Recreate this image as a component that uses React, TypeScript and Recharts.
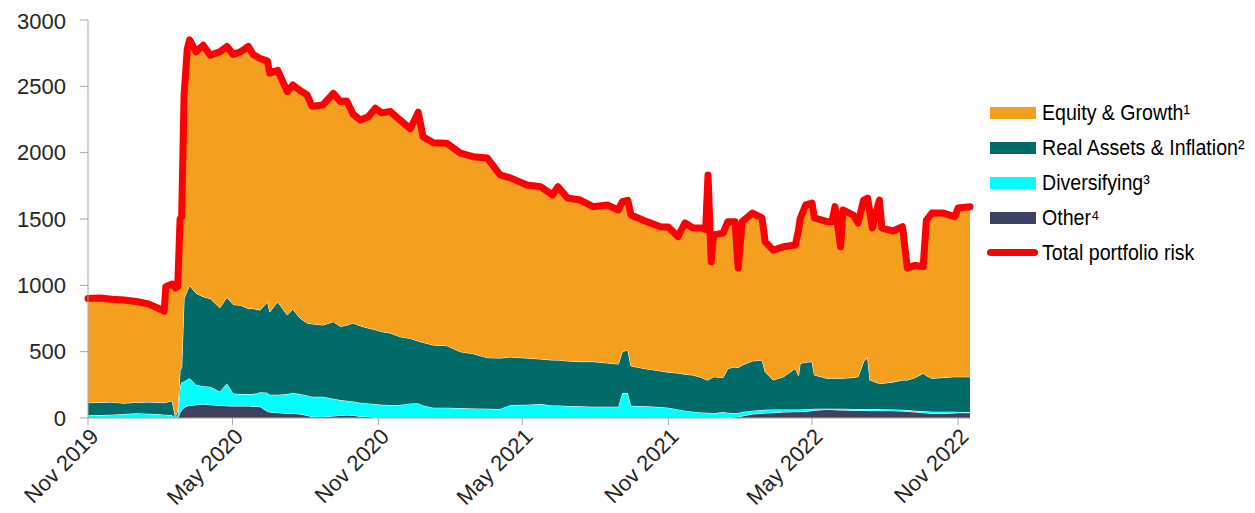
import React from "react"
import {
  ComposedChart,
  Area,
  Line,
  XAxis,
  YAxis
} from "recharts"

// sample dates (roughly bi-weekly, extra points around the spikes)
const dates = [
  "2019-11-01", "2019-11-16", "2019-12-01", "2019-12-16", "2020-01-01", "2020-01-16", "2020-01-31", "2020-02-05",
  "2020-02-07", "2020-02-15", "2020-02-19", "2020-02-22", "2020-02-25", "2020-02-27", "2020-03-01", "2020-03-05",
  "2020-03-08", "2020-03-16", "2020-03-25", "2020-04-03", "2020-04-15", "2020-04-24", "2020-05-02", "2020-05-11",
  "2020-05-21", "2020-05-27", "2020-06-05", "2020-06-14", "2020-06-17", "2020-06-27", "2020-07-09", "2020-07-16",
  "2020-07-25", "2020-08-03", "2020-08-09", "2020-08-23", "2020-09-05", "2020-09-14", "2020-09-22", "2020-09-30",
  "2020-10-09", "2020-10-19", "2020-10-28", "2020-11-05", "2020-11-16", "2020-11-28", "2020-12-11", "2020-12-21",
  "2020-12-27", "2021-01-09", "2021-01-26", "2021-02-12", "2021-02-28", "2021-03-18", "2021-04-03", "2021-04-16",
  "2021-05-07", "2021-05-24", "2021-06-08", "2021-06-15", "2021-06-27", "2021-07-13", "2021-07-29", "2021-08-16",
  "2021-08-30", "2021-09-04", "2021-09-11", "2021-09-15", "2021-10-05", "2021-10-22", "2021-11-01", "2021-11-13",
  "2021-11-22", "2021-12-02", "2021-12-13", "2021-12-18", "2021-12-21", "2021-12-25", "2021-12-28", "2022-01-09",
  "2022-01-15", "2022-01-24", "2022-01-28", "2022-02-02", "2022-02-15", "2022-02-27", "2022-03-03", "2022-03-13",
  "2022-03-26", "2022-04-10", "2022-04-14", "2022-04-16", "2022-04-23", "2022-05-01", "2022-05-04", "2022-05-20",
  "2022-05-26", "2022-05-30", "2022-06-06", "2022-06-09", "2022-06-22", "2022-06-28", "2022-07-05", "2022-07-10",
  "2022-07-13", "2022-07-16", "2022-07-22", "2022-07-25", "2022-07-28", "2022-08-11", "2022-08-23", "2022-08-29",
  "2022-09-08", "2022-09-18", "2022-09-22", "2022-09-29", "2022-10-13", "2022-10-28", "2022-11-01", "2022-11-16"
]

const otherRisk = [
  0, 0, 0, 0, 0, 0, 0, 0,
  0, 0, 0, 0, 40, 60, 80, 90,
  95, 100, 105, 100, 95, 92, 90, 90,
  90, 88, 85, 50, 45, 40, 35, 35,
  30, 20, 10, 10, 15, 20, 22, 20,
  12, 10, 5, 0, 0, 0, 0, 0,
  0, 0, 0, 0, 0, 0, 0, 0,
  0, 0, 0, 0, 0, 0, 0, 0,
  0, 0, 0, 0, 0, 0, 0, 0,
  0, 0, 0, 0, 0, 0, 0, 0,
  3, 8, 10, 15, 30, 35, 38, 40,
  45, 48, 48, 48, 50, 55, 58, 65,
  65, 62, 60, 60, 58, 57, 57, 56,
  55, 55, 55, 55, 55, 55, 52, 50,
  45, 40, 38, 35, 35, 38, 40, 40
]

const diversifying = [
  20, 22, 25, 30, 35, 32, 28, 25,
  25, 20, 0, 20, 200, 210, 195, 200,
  205, 150, 135, 135, 105, 168, 95, 90,
  90, 92, 110, 140, 130, 135, 145, 153,
  150, 150, 150, 150, 130, 115, 108, 105,
  103, 100, 100, 100, 98, 98, 110, 112,
  95, 78, 78, 75, 72, 70, 68, 98,
  100, 105, 95, 95, 90, 88, 85, 85,
  85, 188, 188, 92, 88, 83, 78, 65,
  55, 48, 42, 40, 40, 35, 35, 45,
  37, 27, 28, 30, 25, 25, 24, 25,
  20, 17, 17, 17, 16, 13, 12, 5,
  5, 8, 10, 10, 10, 11, 11, 12,
  13, 12, 12, 12, 11, 10, 10, 10,
  10, 10, 12, 13, 13, 9, 6, 5
]

const realAssets = [
  95, 96, 95, 82, 83, 88, 90, 90,
  93, 110, 10, 40, 120, 110, 625, 670,
  700, 690, 675, 665, 630, 650, 670, 670,
  645, 645, 619, 687, 625, 702, 596, 632,
  574, 546, 550, 541, 581, 555, 570, 591,
  580, 568, 560, 551, 542, 515, 490, 468,
  475, 472, 467, 425, 413, 385, 384, 362,
  352, 340, 342, 342, 340, 337, 340, 330,
  322, 312, 325, 300, 282, 272, 267, 274,
  275, 276, 263, 250, 246, 265, 276, 260,
  334, 350, 342, 354, 375, 377, 287, 221,
  246, 309, 255, 347, 354, 357, 254, 229,
  230, 230, 229, 230, 237, 243, 357, 389,
  218, 213, 198, 195, 195, 206, 224, 226,
  250, 287, 270, 251, 257, 264, 265, 266
]

const equityGrowth = [
  785, 787, 775, 778, 760, 740, 702, 690,
  872, 880, 970, 930, 1140, 1140, 1530, 1820,
  1850, 1820, 1895, 1835, 1930, 1890, 1885, 1910,
  1975, 1915, 1896, 1813, 1800, 1743, 1684, 1690,
  1716, 1719, 1640, 1659, 1721, 1695, 1690, 1574,
  1551, 1592, 1670, 1649, 1670, 1633, 1580, 1725,
  1550, 1525, 1526, 1497, 1485, 1505, 1380, 1350,
  1304, 1299, 1244, 1307, 1228, 1218, 1168, 1191,
  1161, 1130, 1127, 1138, 1110, 1087, 1095, 1028,
  1140, 1108, 1127, 1130, 1546, 878, 1069, 1089,
  1106, 1095, 751, 1081, 1115, 1071, 980, 980,
  980, 930, 1097, 1088, 1186, 1195, 1184, 1181,
  1180, 1293, 992, 1268, 1225, 1159, 1218, 1201,
  1264, 1152, 1315, 1381, 1171, 1139, 1156, 845,
  845, 804, 1170, 1246, 1240, 1207, 1272, 1282
]

const tickDates = ["2019-11-01", "2020-05-01", "2020-11-01", "2021-05-01", "2021-11-01", "2022-05-01", "2022-11-01"]
const tickLabels = ["Nov 2019", "May 2020", "Nov 2020", "May 2021", "Nov 2021", "May 2022", "Nov 2022"]

const seriesNames = ["Equity & Growth¹", "Real Assets & Inflation²", "Diversifying³", "Other⁴", "Total portfolio risk"]
const colors = {
  equity: "#F59F1E",
  real: "#006B68",
  div: "#00FFFF",
  other: "#3D4263",
  total: "#FF0000"
}

const data = dates.map((d, i) => ({
  t: Date.parse(d),
  other: otherRisk[i],
  div: diversifying[i],
  real: realAssets[i],
  equity: equityGrowth[i],
  total: otherRisk[i] + diversifying[i] + realAssets[i] + equityGrowth[i]
}))

const ticks = tickDates.map(d => Date.parse(d))
const labelFor = (v: number) => tickLabels[ticks.indexOf(v)] ?? ""

const XTick = ({ x, y, payload }: any) => (
  <text
    x={x + 1}
    y={y}
    dy="0.7em"
    transform={`rotate(-45 ${x + 1} ${y})`}
    textAnchor="end"
    fontSize={22}
    fontFamily="'Liberation Sans', Arial, sans-serif"
    fill="#262626"
  >
    {labelFor(payload.value)}
  </text>
)

const LegendBox = () => {
  const rows = [
    { name: seriesNames[0], color: colors.equity, line: false },
    { name: seriesNames[1], color: colors.real, line: false },
    { name: seriesNames[2], color: colors.div, line: false },
    { name: seriesNames[3], color: colors.other, line: false },
    { name: seriesNames[4], color: colors.total, line: true }
  ]
  return (
    <div
      style={{
        position: "absolute",
        left: 982,
        top: 87,
        fontFamily: "'Liberation Sans', Arial, sans-serif",
        fontSize: 22,
        color: "#000"
      }}
    >
      {rows.map(r => (
        <div key={r.name} style={{ display: "flex", alignItems: "center", height: 35 }}>
          {r.line ? (
            <div style={{ flexShrink: 0, width: 51, height: 7, borderRadius: 4, background: r.color, marginLeft: -3, marginRight: 4 }} />
          ) : (
            <div style={{ flexShrink: 0, width: 46, height: 12, background: r.color, marginRight: 6 }} />
          )}
          <span style={{ whiteSpace: "nowrap", display: "inline-block", transform: "scaleX(0.89)", transformOrigin: "left center" }}>
            {r.name}
          </span>
        </div>
      ))}
    </div>
  )
}

export default function App() {
  return (
    <div style={{ position: "relative", width: 1240, height: 505 }}>
      <ComposedChart
        width={1240}
        height={505}
        data={data}
        margin={{ top: 12, right: 278, left: 0, bottom: 0 }}
        style={{ overflow: "visible" }}
      >
        <XAxis
          dataKey="t"
          type="number"
          domain={[Date.parse("2019-11-01"), Date.parse("2022-11-16")]}
          ticks={ticks}
          tick={<XTick />}
          height={95}
          tickSize={7}
          tickMargin={2}
          axisLine={{ stroke: "#a6a6a6" }}
          tickLine={{ stroke: "#a6a6a6" }}
          interval={0}
        />
        <YAxis
          domain={[0, 3000]}
          ticks={[0, 500, 1000, 1500, 2000, 2500, 3000]}
          width={80}
          tickSize={8}
          tickMargin={14}
          axisLine={{ stroke: "#a6a6a6" }}
          tickLine={{ stroke: "#a6a6a6" }}
          tick={{ fill: "#262626", fontSize: 22, fontFamily: "'Liberation Sans', Arial, sans-serif" }}
        />
        <Area type="linear" dataKey="other" name={seriesNames[3]} stackId="a" stroke="#ffffff" strokeWidth={1} fill={colors.other} fillOpacity={1} isAnimationActive={false} />
        <Area type="linear" dataKey="div" name={seriesNames[2]} stackId="a" stroke="#ffffff" strokeWidth={1} fill={colors.div} fillOpacity={1} isAnimationActive={false} />
        <Area type="linear" dataKey="real" name={seriesNames[1]} stackId="a" stroke="#ffffff" strokeWidth={1} fill={colors.real} fillOpacity={1} isAnimationActive={false} />
        <Area type="linear" dataKey="equity" name={seriesNames[0]} stackId="a" stroke="none" fill={colors.equity} fillOpacity={1} isAnimationActive={false} />
        <Line
          type="linear"
          dataKey="total"
          name={seriesNames[4]}
          stroke={colors.total}
          strokeWidth={7}
          strokeLinejoin="round"
          strokeLinecap="round"
          dot={false}
          activeDot={false}
          isAnimationActive={false}
        />
      </ComposedChart>
      <LegendBox />
    </div>
  )
}
